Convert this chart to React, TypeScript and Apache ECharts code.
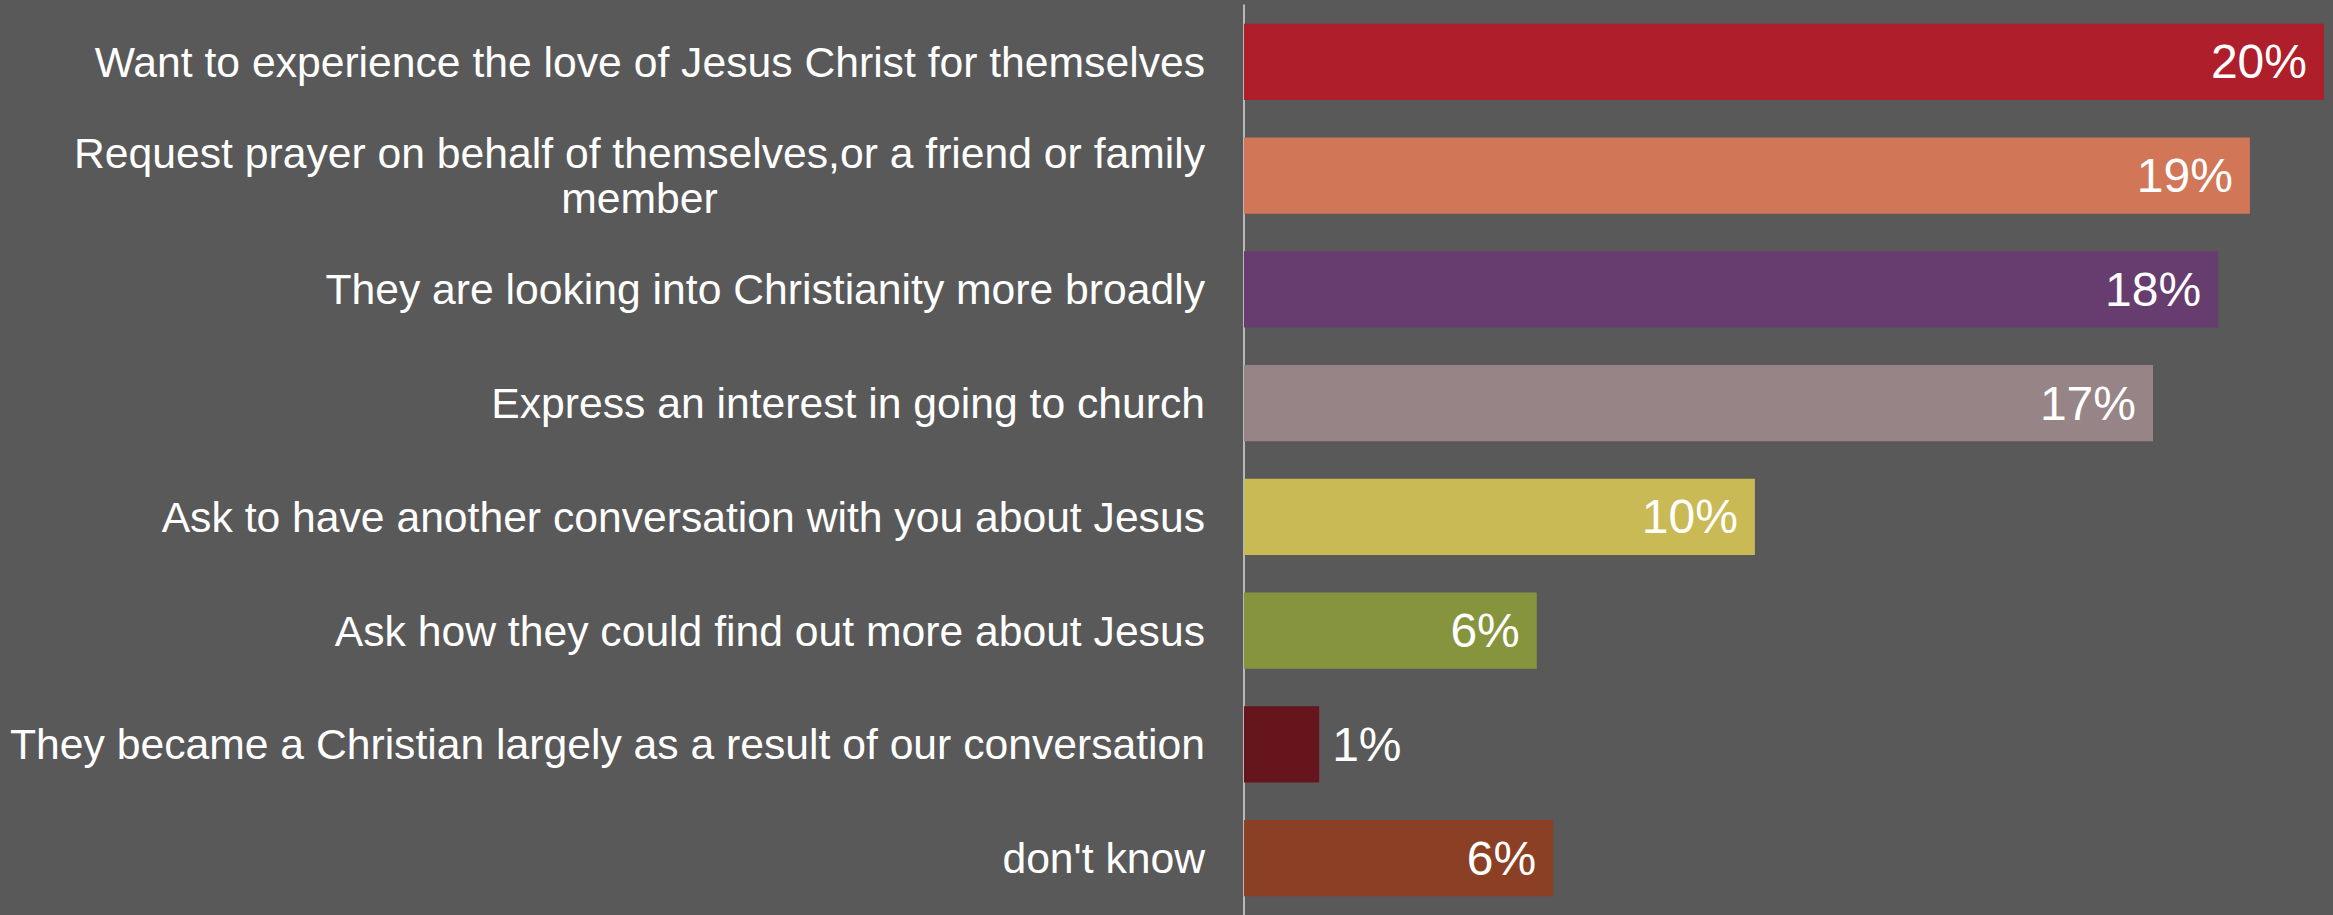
import React, { useEffect, useRef } from "react";
import * as echarts from "echarts";

const categories: string[] = [
  "Want to experience the love of Jesus Christ for themselves",
  "Request prayer on behalf of themselves,or a friend or family\nmember",
  "They are looking into Christianity more broadly",
  "Express an interest in going to church",
  "Ask to have another conversation with you about Jesus",
  "Ask how they could find out more about Jesus",
  "They became a Christian largely as a result of our conversation",
  "don't know",
];

const values: number[] = [20.4, 19.0, 18.4, 17.17, 9.65, 5.53, 1.42, 5.84];

const barColors: string[] = [
  "#AF1F2B",
  "#D17758",
  "#673C6E",
  "#978487",
  "#C9BA55",
  "#87943E",
  "#66151C",
  "#8B4025",
];

const BG = "#595959";
const FONT = "'Liberation Sans', Arial, sans-serif";

export default function App() {
  const ref = useRef<HTMLDivElement>(null);

  useEffect(() => {
    document.body.style.margin = "0";
    document.body.style.background = BG;
    document.body.style.overflow = "hidden";
    if (!ref.current) return;
    const chart = echarts.init(ref.current, null, { renderer: "svg" });
    const maxVal = Math.max(...values);
    chart.setOption({
      animation: false,
      backgroundColor: BG,
      grid: { left: 1244, width: 1080, top: 5, height: 914.4, containLabel: false },
      xAxis: {
        type: "value",
        min: 0,
        max: maxVal,
        show: false,
      },
      yAxis: {
        type: "category",
        data: categories,
        inverse: true,
        axisLine: { show: true, lineStyle: { color: "#D9D9D9", width: 1.5 } },
        axisTick: { show: false },
        splitLine: { show: false },
        axisLabel: {
          margin: 39,
          formatter: (v: string) => `{c|${v}}`,
          rich: {
            c: {
              align: "center",
              color: "#FFFFFF",
              fontFamily: FONT,
              fontSize: 42.67,
              lineHeight: 45,
            },
          },
        },
      },
      series: [
        {
          type: "bar",
          barCategoryGap: "33%",
          data: values.map((v, i) => ({
            value: v,
            itemStyle: { color: barColors[i] },
            label:
              v < 3
                ? { position: "right", distance: 13 }
                : { position: "insideRight", distance: 17 },
          })),
          label: {
            show: true,
            color: "#FFFFFF",
            fontFamily: FONT,
            fontSize: 48,
            formatter: (p: any) => `${Math.round(p.value)}%`,
          },
        },
      ],
    });
    return () => chart.dispose();
  }, []);

  return <div ref={ref} style={{ width: 2333, height: 915 }} />;
}
